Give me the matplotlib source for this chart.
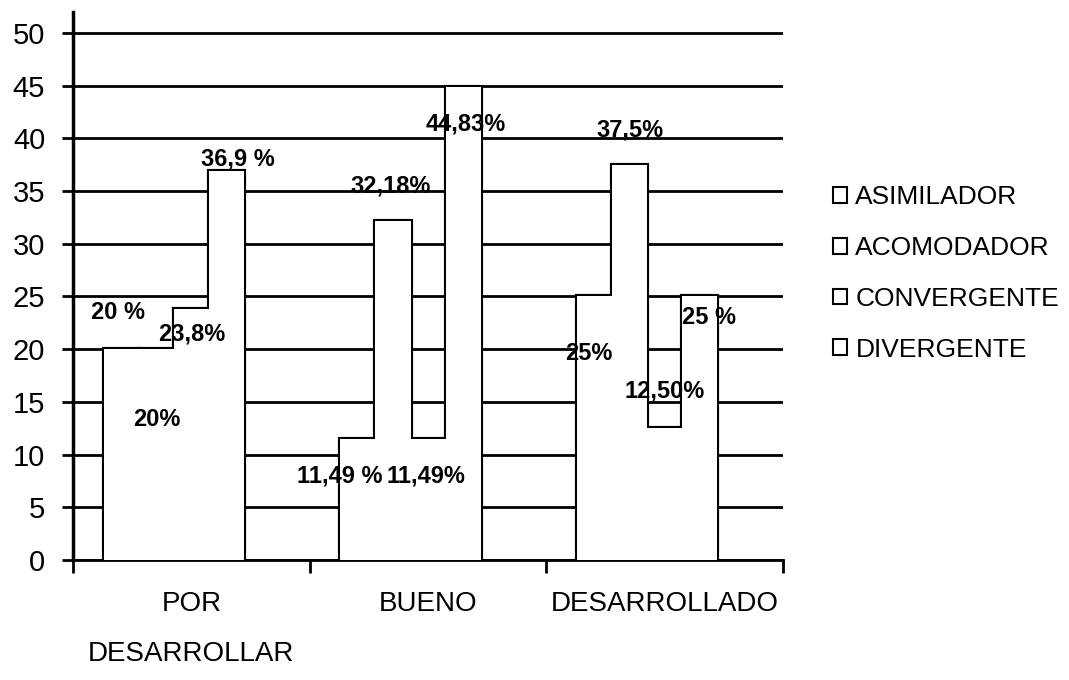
# grouped bars: learning styles by level (scanned-style chart, white bars on black grid)
import numpy as np
import matplotlib.pyplot as plt
from matplotlib.patches import Patch

categories = ["POR\nDESARROLLAR", "BUENO", "DESARROLLADO"]
series = ["ASIMILADOR", "ACOMODADOR", "CONVERGENTE", "DIVERGENTE"]
por_desarrollar = [20, 20, 23.8, 36.9]
bueno = [11.49, 32.18, 11.49, 44.83]
desarrollado = [25, 37.5, 12.5, 25]
labels_por = ["20 %", "20%", "23,8%", "36,9 %"]
labels_bueno = ["11,49 %", "32,18%", "11,49%", "44,83%"]
labels_des = ["25%", "37,5%", "12,50%", "25 %"]
yticks = list(range(0, 55, 5))

# label nudges (dx in category units, dy in value units), as in the original
off_por = [(-0.014, 3.5), (0, -6.7), (0, -2.4), (0.05, 1.1)]
off_bueno = [(-0.077, -3.5), (-0.01, 3.3), (-0.01, -3.5), (0.012, -3.5)]
off_des = [(-0.026, -5.4), (0, 3.3), (0, 3.5), (0.04, -2.0)]

FONT = ["Liberation Sans", "DejaVu Sans"]
plt.rcParams["font.family"] = FONT

vals = np.array([por_desarrollar, bueno, desarrollado])
labs = [labels_por, labels_bueno, labels_des]
offs = [off_por, off_bueno, off_des]

fig = plt.figure(figsize=(10.69, 6.8), dpi=100)
ax = fig.add_axes([0.0683, 0.1765, 0.6642, 0.806])

x = np.arange(len(categories))
w = 0.148
for i in range(len(series)):
    pos = x + (i - 2) * w
    # thick black outline first, then white fill on top -> only the silhouette remains
    ax.bar(pos, vals[:, i], width=w, color="white", edgecolor="black", linewidth=3, zorder=2)
    ax.bar(pos, vals[:, i], width=w, color="white", edgecolor="none", zorder=3)
    for j in range(len(categories)):
        dx, dy = offs[j][i]
        ax.text(pos[j] + dx, vals[j, i] + dy, labs[j][i], ha="center", va="center",
                fontsize=17, fontweight="bold", zorder=4)

ax.set_xlim(-0.5, 2.5)
ax.set_ylim(0, 52)
ax.set_yticks(yticks)
ax.yaxis.grid(True, color="black", linewidth=2)
ax.set_axisbelow(True)

ax.set_xticks(x)
ax.set_xticklabels(categories, fontsize=20, linespacing=2.2)
ax.set_xticks(np.arange(-0.5, 3, 1), minor=True)
ax.tick_params(axis="x", which="major", length=0, pad=22)
ax.tick_params(axis="x", which="minor", length=9, width=2, direction="out")
ax.tick_params(axis="y", labelsize=21, length=8, width=2, direction="out", pad=12)

for s in ["top", "right"]:
    ax.spines[s].set_visible(False)
ax.spines["left"].set_linewidth(2.5)
ax.spines["bottom"].set_linewidth(2)

handles = [Patch(facecolor="white", edgecolor="black", linewidth=1.5) for _ in series]
fig.legend(handles, series, loc="center left", bbox_to_anchor=(0.757, 0.598),
           frameon=False, fontsize=19, handlelength=0.55, handleheight=0.55,
           handletextpad=0.3, labelspacing=1.02)

fig.savefig("out.png", dpi=100)
